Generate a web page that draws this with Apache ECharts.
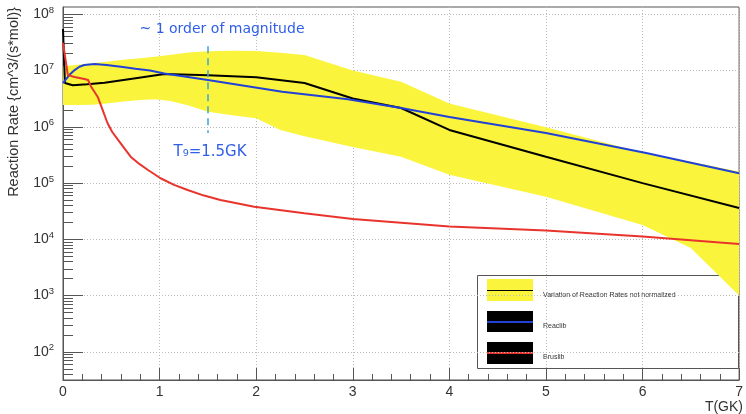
<!DOCTYPE html>
<html>
<head>
<meta charset="utf-8">
<title>Reaction Rate</title>
<script src="https://cdn.jsdelivr.net/npm/echarts@6.0.0/dist/echarts.min.js"></script>
<style>
  html, body { margin: 0; padding: 0; background: #fff; }
  #main { width: 746px; height: 414px; }
</style>
</head>
<body>
<div id="main"></div>
<script>
  // variation band (yellow) - upper and lower edges
  const bandT = [0, 0.15, 0.3, 0.45, 0.6, 0.8, 0.95, 1.1, 1.3, 1.5, 1.75, 2.0, 2.25, 2.5, 3.0, 3.5, 4.0, 5.0, 6.0, 6.5, 7.0]
  const bandUpper = [1.2e7, 1.27e7, 1.35e7, 1.44e7, 1.54e7, 1.66e7, 1.76e7, 1.9e7, 2.1e7, 2.2e7, 2.25e7, 2.22e7, 2.08e7, 1.9e7, 1.0e7, 6.3e6, 2.6e6, 9.8e5, 3.5e5, 2.4e5, 1.6e5]
  const bandLower = [2.44e6, 2.44e6, 2.46e6, 2.6e6, 2.8e6, 3.0e6, 3.1e6, 2.9e6, 2.4e6, 1.86e6, 1.6e6, 1.42e6, 8.8e5, 6.8e5, 4.4e5, 2.95e5, 1.4e5, 5.7e4, 1.8e4, 7e3, 1.0e3]

  // black curve inside the band
  const centerT = [0, 0.02, 0.1, 0.25, 0.43, 0.77, 1.05, 1.5, 2.0, 2.5, 3.0, 3.5, 4.0, 5.0, 6.0, 7.0]
  const centerRate = [5.5e7, 6.0e6, 5.5e6, 5.7e6, 6.1e6, 7.4e6, 8.7e6, 8.3e6, 7.6e6, 6.0e6, 3.2e6, 2.16e6, 8.8e5, 2.95e5, 1.0e5, 3.6e4]

  // Reaclib (blue)
  const reaclibT = [0, 0.03, 0.07, 0.12, 0.17, 0.22, 0.33, 0.45, 0.6, 0.75, 0.9, 1.05, 1.5, 2.27, 2.95, 3.5, 4.0, 5.0, 6.05, 7.0]
  const reaclibRate = [6.0e6, 7.0e6, 8.5e6, 1.02e7, 1.17e7, 1.26e7, 1.31e7, 1.26e7, 1.17e7, 1.08e7, 1.0e7, 8.9e6, 6.8e6, 4.2e6, 3.1e6, 2.16e6, 1.5e6, 7.8e5, 3.4e5, 1.5e5]

  // Bruslib (red)
  const bruslibT = [0, 0.05, 0.12, 0.22, 0.26, 0.29, 0.36, 0.41, 0.46, 0.51, 0.57, 0.64, 0.7, 0.79, 0.88, 1.01, 1.15, 1.29, 1.46, 1.63, 1.98, 2.5, 3.0, 4.0, 5.0, 6.0, 7.0]
  const bruslibRate = [3.1e7, 8.3e6, 7.7e6, 7.1e6, 6.8e6, 5.2e6, 3.4e6, 2.0e6, 1.17e6, 8.1e5, 5.85e5, 4.05e5, 2.95e5, 2.19e5, 1.71e5, 1.22e5, 9.3e4, 7.55e4, 6.0e4, 5.0e4, 3.81e4, 2.9e4, 2.3e4, 1.7e4, 1.43e4, 1.12e4, 8.3e3]

  // axis ticks
  const xTicks = [0, 1, 2, 3, 4, 5, 6, 7]
  const yDecades = [1e2, 1e3, 1e4, 1e5, 1e6, 1e7, 1e8]
  const yMin = 31.6
  const yMax = 1.35e8

  // T9 = 1.5 GK marker
  const markT = 1.5
  const markTop = 2.7e7
  const markBottom = 7.8e5

  // minor ticks 2..9 x 10^k inside the y range
  const yMinor = []
  for (let k = 1; k <= 8; k++) {
    for (let m = 2; m <= 9; m++) {
      const v = m * Math.pow(10, k)
      if (v > yMin && v < yMax) yMinor.push(v)
    }
  }

  const pairs = (xs, ys) => xs.map((x, i) => [x, ys[i]])

  const chart = echarts.init(document.getElementById('main'))
  const font = 'Liberation Sans, Arial, sans-serif'
  const axisColor = '#555'

  const option = {
    animation: false,
    backgroundColor: '#fff',
    grid: {
      left: 63, right: 3, top: 7, bottom: 34,
      show: true, borderColor: axisColor, borderWidth: 1
    },
    xAxis: {
      type: 'value',
      min: 0,
      max: 7,
      interval: 1,
      axisLine: { lineStyle: { color: axisColor } },
      axisTick: { inside: true, length: 12, lineStyle: { color: axisColor } },
      minorTick: { show: true, splitNumber: 5, length: 6, lineStyle: { color: axisColor } },
      axisLabel: {
        fontSize: 14, color: '#333', fontFamily: font, margin: 5,
        formatter: v => xTicks.indexOf(v) >= 0 ? String(v) : ''
      },
      splitLine: { show: true, lineStyle: { color: '#bbb', type: [1, 2] } }
    },
    yAxis: [
      {
        type: 'log',
        logBase: 10,
        min: yMin,
        max: yMax,
        axisLine: { show: true, lineStyle: { color: axisColor } },
        axisTick: { inside: true, length: 20, customValues: yDecades, lineStyle: { color: axisColor } },
        axisLabel: {
          customValues: yDecades,
          margin: 9,
          formatter: v => {
            const k = Math.round(Math.log10(v))
            return '{b|10}{s|' + k + '}'
          },
          rich: {
            b: { fontSize: 14, color: '#333', fontFamily: font, lineHeight: 18 },
            s: { fontSize: 9.5, color: '#333', fontFamily: font, lineHeight: 10, verticalAlign: 'top' }
          }
        },
        splitLine: { show: true, lineStyle: { color: '#bbb', type: [1, 2] } }
      },
      {
        // second axis only carries the minor ticks
        type: 'log',
        logBase: 10,
        min: yMin,
        max: yMax,
        position: 'left',
        axisLine: { show: false },
        axisTick: { inside: true, length: 10, customValues: yMinor, lineStyle: { color: axisColor } },
        axisLabel: { show: false },
        splitLine: { show: false }
      }
    ],
    series: [
      {
        name: 'band',
        type: 'custom',
        silent: true,
        z: 1,
        data: [[0, 1e6]],
        renderItem: (params, api) => {
          const pts = []
          bandT.forEach((t, i) => pts.push(api.coord([t, bandUpper[i]])))
          for (let i = bandT.length - 1; i >= 0; i--) pts.push(api.coord([bandT[i], bandLower[i]]))
          return { type: 'polygon', shape: { points: pts }, style: { fill: '#faf43c' } }
        }
      },
      {
        name: 'Variation of Reaction Rates not normalized',
        type: 'line',
        z: 2,
        showSymbol: false,
        data: pairs(centerT, centerRate),
        lineStyle: { color: '#000', width: 2 },
        markLine: {
          silent: true,
          symbol: 'none',
          label: { show: false },
          lineStyle: { color: '#3aa2dc', width: 1.5, type: [7, 5] },
          data: [[{ coord: [markT, markTop] }, { coord: [markT, markBottom] }]]
        }
      },
      {
        name: 'Reaclib',
        type: 'line',
        z: 3,
        showSymbol: false,
        data: pairs(reaclibT, reaclibRate),
        lineStyle: { color: '#2141d8', width: 2 }
      },
      {
        name: 'Bruslib',
        type: 'line',
        z: 4,
        showSymbol: false,
        data: pairs(bruslibT, bruslibRate),
        lineStyle: { color: '#e8342c', width: 2 }
      }
    ],
    graphic: [
      // axis titles
      {
        type: 'text', x: 14, y: 102, rotation: Math.PI / 2,
        style: { text: 'Reaction Rate {cm^3/(s*mol)}', font: '14.5px ' + font, fill: '#333', align: 'center', verticalAlign: 'middle' }
      },
      {
        type: 'text', x: 743, y: 407,
        style: { text: 'T(GK)', font: '14px ' + font, fill: '#333', align: 'right', verticalAlign: 'middle' }
      },
      // annotations
      {
        type: 'text', x: 222, y: 29, z: 50,
        style: { text: '~ 1 order of magnitude', font: '14px DejaVu Sans, sans-serif', fill: '#2f5fe8', align: 'center', verticalAlign: 'middle' }
      },
      {
        type: 'text', x: 210, y: 152, z: 50,
        style: { text: 'T₉=1.5GK', font: '15px DejaVu Sans, sans-serif', fill: '#2f5fe8', align: 'center', verticalAlign: 'middle' }
      },
      // legend box
      {
        type: 'group', z: 100,
        children: [
          { type: 'rect', shape: { x: 477.5, y: 275.5, width: 261, height: 93 }, style: { fill: '#fff', stroke: axisColor, lineWidth: 1 } },
          { type: 'rect', shape: { x: 487, y: 279, width: 46, height: 22 }, style: { fill: '#faf43c' } },
          { type: 'line', shape: { x1: 487, y1: 290.5, x2: 533, y2: 290.5 }, style: { stroke: '#000', lineWidth: 1 } },
          { type: 'text', x: 543, y: 295, style: { text: 'Variation of Reaction Rates not normalized', font: '7px ' + font, fill: '#333', verticalAlign: 'middle' } },
          { type: 'rect', shape: { x: 487, y: 311, width: 46, height: 21 }, style: { fill: '#000' } },
          { type: 'line', shape: { x1: 487, y1: 322, x2: 533, y2: 322 }, style: { stroke: '#2141d8', lineWidth: 2 } },
          { type: 'text', x: 543, y: 326, style: { text: 'Reaclib', font: '7px ' + font, fill: '#333', verticalAlign: 'middle' } },
          { type: 'rect', shape: { x: 487, y: 342, width: 46, height: 22 }, style: { fill: '#000' } },
          { type: 'line', shape: { x1: 487, y1: 353, x2: 533, y2: 353 }, style: { stroke: '#e8342c', lineWidth: 2 } },
          { type: 'text', x: 543, y: 357, style: { text: 'Bruslib', font: '7px ' + font, fill: '#333', verticalAlign: 'middle' } }
        ]
      }
    ]
  }

  chart.setOption(option)
</script>
</body>
</html>
